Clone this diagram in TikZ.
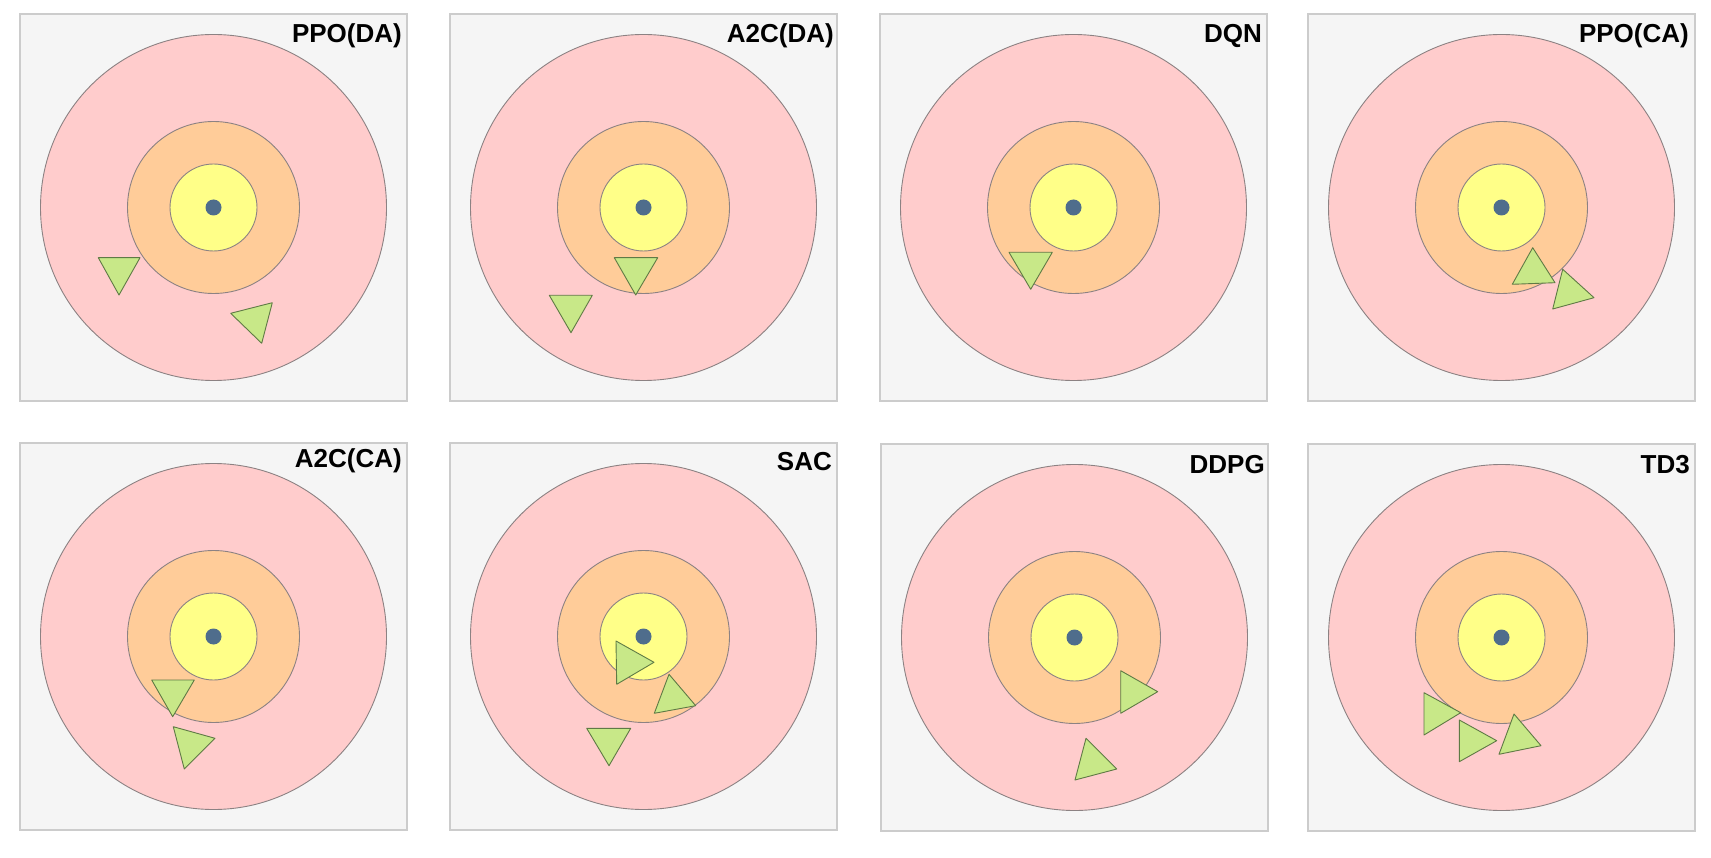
\documentclass[tikz,border=0pt]{standalone}
\usepackage{fontspec}
\setmainfont{Liberation Sans}
\usetikzlibrary{calc}
\definecolor{panelbg}{HTML}{F5F5F5}
\definecolor{panelline}{HTML}{CCCCCC}
\definecolor{ringpink}{HTML}{FFCCCC}
\definecolor{ringorange}{HTML}{FFCC99}
\definecolor{ringyellow}{HTML}{FFFF88}
\definecolor{ringline}{HTML}{8C8283}
\definecolor{dotblue}{HTML}{4F6D8C}
\definecolor{trifill}{HTML}{C8E888}
\definecolor{triline}{HTML}{5F7A45}
\tikzset{
  panelbox/.style={draw=panelline, line width=1.6pt, fill=panelbg, minimum size=387pt, inner sep=0pt, outer sep=0pt},
  ringout/.style={circle, draw=ringline, line width=0.9pt, fill=ringpink, minimum size=346pt, inner sep=0pt},
  ringmid/.style={circle, draw=ringline, line width=0.9pt, fill=ringorange, minimum size=172pt, inner sep=0pt},
  ringin/.style={circle, draw=ringline, line width=0.9pt, fill=ringyellow, minimum size=87pt, inner sep=0pt},
  hub/.style={circle, fill=dotblue, minimum size=16pt, inner sep=0pt},
  ptitle/.style={font=\fontsize{26}{30}\selectfont\bfseries, inner sep=0pt, anchor=base east},
  tri/.style={fill=trifill, draw=triline, line width=0.9pt, line join=round}
}
\newcommand\tpanel[6]{%
  % #1 name, #2 left, #3 top, #4 title, #5 title right offset, #6 baseline offset
  \node[panelbox] (#1) at ({#2+193.5},{#3+193.5}) {};
  \node[ringout] (#1o) at (#1.center) {};
  \node[ringmid] (#1m) at (#1.center) {};
  \node[ringin] (#1i) at (#1.center) {};
  \node[hub] (#1h) at (#1.center) {};
  \node[ptitle] (#1t) at ({#2+#5},{#3+#6}) {#4};
}
\begin{document}
\begin{tikzpicture}[x=1pt,y=-1pt]
\useasboundingbox[fill=white] (0,0) rectangle (1711,858);
\tpanel{pa}{20}{14}{PPO(DA)}{382}{29}
\tpanel{pb}{450}{14}{A2C(DA)}{384}{29}
\tpanel{pc}{880}{14}{DQN}{382}{29}
\tpanel{pd}{1308}{14}{PPO(CA)}{381}{29}
\tpanel{pe}{20}{443}{A2C(CA)}{382}{24}
\tpanel{pf}{450}{443}{SAC}{382}{27}
\tpanel{pg}{881}{444}{DDPG}{384}{29}
\tpanel{ph}{1308}{444}{TD3}{382}{29}
% PPO(DA)
\filldraw[tri] (98.3,257.7) -- (140,257.7) -- (119,295) -- cycle;
\filldraw[tri] (230.7,313.3) -- (272.3,302.7) -- (261.7,343.3) -- cycle;
% A2C(DA)
\filldraw[tri] (614.3,257.7) -- (657.7,257.7) -- (635.7,295) -- cycle;
\filldraw[tri] (549.3,295.3) -- (592.3,295.3) -- (571,332.7) -- cycle;
% DQN
\filldraw[tri] (1009,252.3) -- (1052.3,252.3) -- (1030.7,289.3) -- cycle;
% PPO(CA)
\filldraw[tri] (1532.7,247.7) -- (1555,282.7) -- (1512.3,284.3) -- cycle;
\filldraw[tri] (1562.7,269.3) -- (1594,297.7) -- (1552.7,309) -- cycle;
% A2C(CA)
\filldraw[tri] (151.7,680) -- (194.3,680) -- (172.7,716.7) -- cycle;
\filldraw[tri] (173.3,726.7) -- (215,738.3) -- (184.3,769) -- cycle;
% SAC
\filldraw[tri] (616,641) -- (654,662.3) -- (616.7,684.3) -- cycle;
\filldraw[tri] (669,674.3) -- (695.7,705.7) -- (654.3,713.3) -- cycle;
\filldraw[tri] (586.7,728.3) -- (630.7,728.3) -- (609,765.7) -- cycle;
% DDPG
\filldraw[tri] (1120.7,670.7) -- (1157.7,691.7) -- (1120.7,713.3) -- cycle;
\filldraw[tri] (1086,738.3) -- (1116.7,769) -- (1075,780) -- cycle;
% TD3
\filldraw[tri] (1424,692.7) -- (1460.7,712.7) -- (1424,735) -- cycle;
\filldraw[tri] (1459.3,720) -- (1496.7,740.7) -- (1459.3,761.7) -- cycle;
\filldraw[tri] (1514,714) -- (1541,745.7) -- (1499,754.3) -- cycle;
\end{tikzpicture}
\end{document}
